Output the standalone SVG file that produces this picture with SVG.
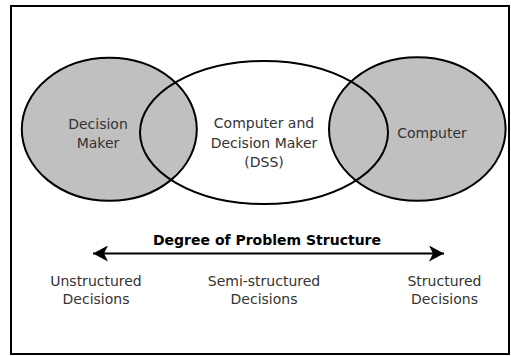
<svg xmlns="http://www.w3.org/2000/svg" width="511" height="356" viewBox="0 0 511 356">
<style>
.t{font-family:"DejaVu Sans",sans-serif;font-size:14px;fill:#333;text-anchor:middle}
.b{font-family:"DejaVu Sans",sans-serif;font-size:14px;font-weight:bold;fill:#000;text-anchor:middle}
.g{fill:#c0c0c0;stroke:#000;stroke-width:2}
</style>
<defs>
<marker id="ah" markerWidth="16" markerHeight="16" refX="15" refY="8" orient="auto-start-reverse" markerUnits="userSpaceOnUse">
<path d="M0,0 L15,8 L0,16 L4,8 Z" fill="#000"/>
</marker>
</defs>
<rect x="0" y="0" width="511" height="356" fill="#fff"/>
<rect x="11" y="6" width="498" height="348" fill="#fff" stroke="#000" stroke-width="2"/>
<g id="decision-maker">
<ellipse class="g" cx="109.3" cy="129.3" rx="87.5" ry="71.5"/>
</g>
<g id="computer">
<ellipse class="g" cx="417.3" cy="129" rx="88.3" ry="71.7"/>
</g>
<g id="dss">
<ellipse cx="264" cy="132.5" rx="124" ry="71.5" fill="none" stroke="#000" stroke-width="2"/>
<text class="t" x="264" y="128">Computer and</text>
<text class="t" x="264" y="148">Decision Maker</text>
<text class="t" x="264" y="167">(DSS)</text>
</g>
<g id="decision-maker-label">
<text class="t" x="98" y="129">Decision</text>
<text class="t" x="98" y="148">Maker</text>
</g>
<g id="computer-label">
<text class="t" x="432" y="138">Computer</text>
</g>
<g id="connectors">
<line x1="93" y1="253.5" x2="444" y2="253.5" stroke="#000" stroke-width="2" marker-start="url(#ah)" marker-end="url(#ah)"/>
</g>
<g id="axis-label">
<text class="b" x="267" y="245">Degree of Problem Structure</text>
</g>
<g id="unstructured">
<text class="t" x="96" y="286">Unstructured</text>
<text class="t" x="96" y="304">Decisions</text>
</g>
<g id="semi">
<text class="t" x="264" y="286">Semi-structured</text>
<text class="t" x="264" y="304">Decisions</text>
</g>
<g id="structured">
<text class="t" x="444.5" y="286">Structured</text>
<text class="t" x="444.5" y="304">Decisions</text>
</g>
</svg>
